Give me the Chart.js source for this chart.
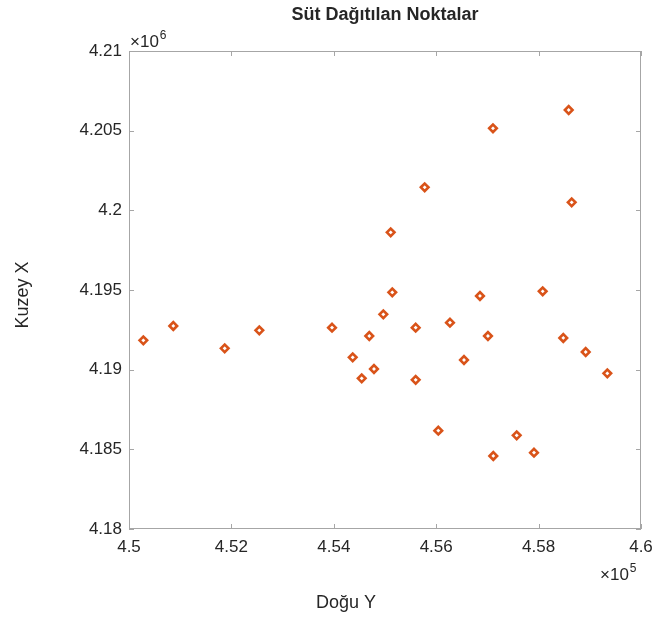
<!DOCTYPE html>
<html>
<head>
<meta charset="utf-8">
<script src="https://cdn.jsdelivr.net/npm/chart.js@4"></script>
<style>
  html, body { margin: 0; padding: 0; background: #fff; }
  #wrap { width: 652px; height: 619px; }
</style>
</head>
<body>
<div id="wrap"><canvas id="chart" width="652" height="619"></canvas></div>
<script>
// points (Doğu = easting, Kuzey = northing)
var dogu = [450280, 450865, 451869, 452545, 453965, 454369, 454545, 454693, 454785, 454967,
            455111, 455142, 455599, 455599, 455775, 456041, 456269, 456543, 456855, 457011,
            457109, 457115, 457572, 457910, 458080, 458482, 458588, 458646, 458920, 459342];
var kuzey = [4191843, 4192741, 4191341, 4192470, 4192634, 4190776, 4189458, 4192113, 4190042, 4193475,
             4198621, 4194856, 4192634, 4189364, 4201446, 4186170, 4192948, 4190607, 4194624, 4192113,
             4205149, 4184582, 4185881, 4184789, 4194919, 4191988, 4206297, 4200504, 4191109, 4189772];
var xTicks = [450000, 452000, 454000, 456000, 458000, 460000];
var yTicks = [4180000, 4185000, 4190000, 4195000, 4200000, 4205000, 4210000];

var titleText = 'Süt Dağıtılan Noktalar';
var xTitle = 'Doğu Y';
var yTitle = 'Kuzey X';

var font = '"Liberation Sans", Arial, sans-serif';
var textColor = '#262626';
var boxColor = '#a6a6a6';

var points = dogu.map(function(x, i) { return { x: x, y: kuzey[i] }; });

function exponent(ctx, base, sup, x, y) {
  ctx.font = '17px ' + font;
  ctx.fillText(base, x, y);
  var w = ctx.measureText(base).width;
  ctx.font = '12px ' + font;
  ctx.fillText(sup, x + w + 1, y - 8);
}

// box, inward ticks, exponents and titles (MATLAB look)
var matlabAxes = {
  id: 'matlabAxes',
  afterDatasetsDraw: function(chart) {
    var ctx = chart.ctx;
    var a = chart.chartArea;
    var xs = chart.scales.x, ys = chart.scales.y;
    ctx.save();
    ctx.strokeStyle = boxColor;
    ctx.lineWidth = 1;
    ctx.strokeRect(a.left + 0.5, a.top + 0.5, a.right - a.left - 1, a.bottom - a.top - 1);
    ctx.beginPath();
    xTicks.forEach(function(v) {
      var px = Math.round(xs.getPixelForValue(v)) + 0.5;
      ctx.moveTo(px, a.bottom); ctx.lineTo(px, a.bottom - 5);
      ctx.moveTo(px, a.top); ctx.lineTo(px, a.top + 5);
    });
    yTicks.forEach(function(v) {
      var py = Math.round(ys.getPixelForValue(v)) + 0.5;
      ctx.moveTo(a.left, py); ctx.lineTo(a.left + 5, py);
      ctx.moveTo(a.right, py); ctx.lineTo(a.right - 5, py);
    });
    ctx.stroke();

    ctx.fillStyle = textColor;
    ctx.textAlign = 'left';
    ctx.textBaseline = 'alphabetic';
    exponent(ctx, '\u00d710', '6', a.left + 1, a.top - 4);
    exponent(ctx, '\u00d710', '5', a.right - 41, a.bottom + 51);

    // title
    ctx.font = 'bold 18px ' + font;
    ctx.textAlign = 'center';
    ctx.textBaseline = 'middle';
    ctx.fillText(titleText, (a.left + a.right) / 2, 15);

    // axis titles
    ctx.font = '18px ' + font;
    ctx.fillText(xTitle, 346, 603);
    ctx.translate(23, 295);
    ctx.rotate(-Math.PI / 2);
    ctx.fillText(yTitle, 0, 0);
    ctx.restore();
  }
};

new Chart(document.getElementById('chart'), {
  type: 'scatter',
  data: {
    datasets: [{
      data: points,
      pointStyle: 'rectRot',
      pointRadius: 3.8,
      pointHoverRadius: 3.8,
      pointBorderWidth: 2.6,
      borderColor: '#D95319',
      backgroundColor: '#ffffff',
      showLine: false
    }]
  },
  options: {
    responsive: false,
    animation: false,
    layout: { padding: { left: 0, top: 51, right: 11, bottom: 50 } },
    plugins: { legend: { display: false }, tooltip: { enabled: false } },
    scales: {
      x: {
        type: 'linear',
        min: 450000, max: 460000,
        afterBuildTicks: function(s) { s.ticks = xTicks.map(function(v) { return { value: v }; }); },
        afterFit: function(s) { s.height = 40; s.paddingLeft = 0; s.paddingRight = 0; },
        border: { display: false },
        grid: { display: false, drawTicks: false },
        ticks: {
          padding: 8,
          color: textColor,
          font: { family: font, size: 17 },
          maxRotation: 0,
          callback: function(v) { return String(Number((v / 1e5).toFixed(3))); }
        }
      },
      y: {
        type: 'linear',
        min: 4180000, max: 4210000,
        afterBuildTicks: function(s) { s.ticks = yTicks.map(function(v) { return { value: v }; }); },
        afterFit: function(s) { s.width = 129; s.paddingTop = 0; s.paddingBottom = 0; },
        border: { display: false },
        grid: { display: false, drawTicks: false },
        ticks: {
          padding: 7,
          color: textColor,
          font: { family: font, size: 17 },
          callback: function(v) { return String(Number((v / 1e6).toFixed(3))); }
        }
      }
    }
  },
  plugins: [matlabAxes]
});
</script>
</body>
</html>
